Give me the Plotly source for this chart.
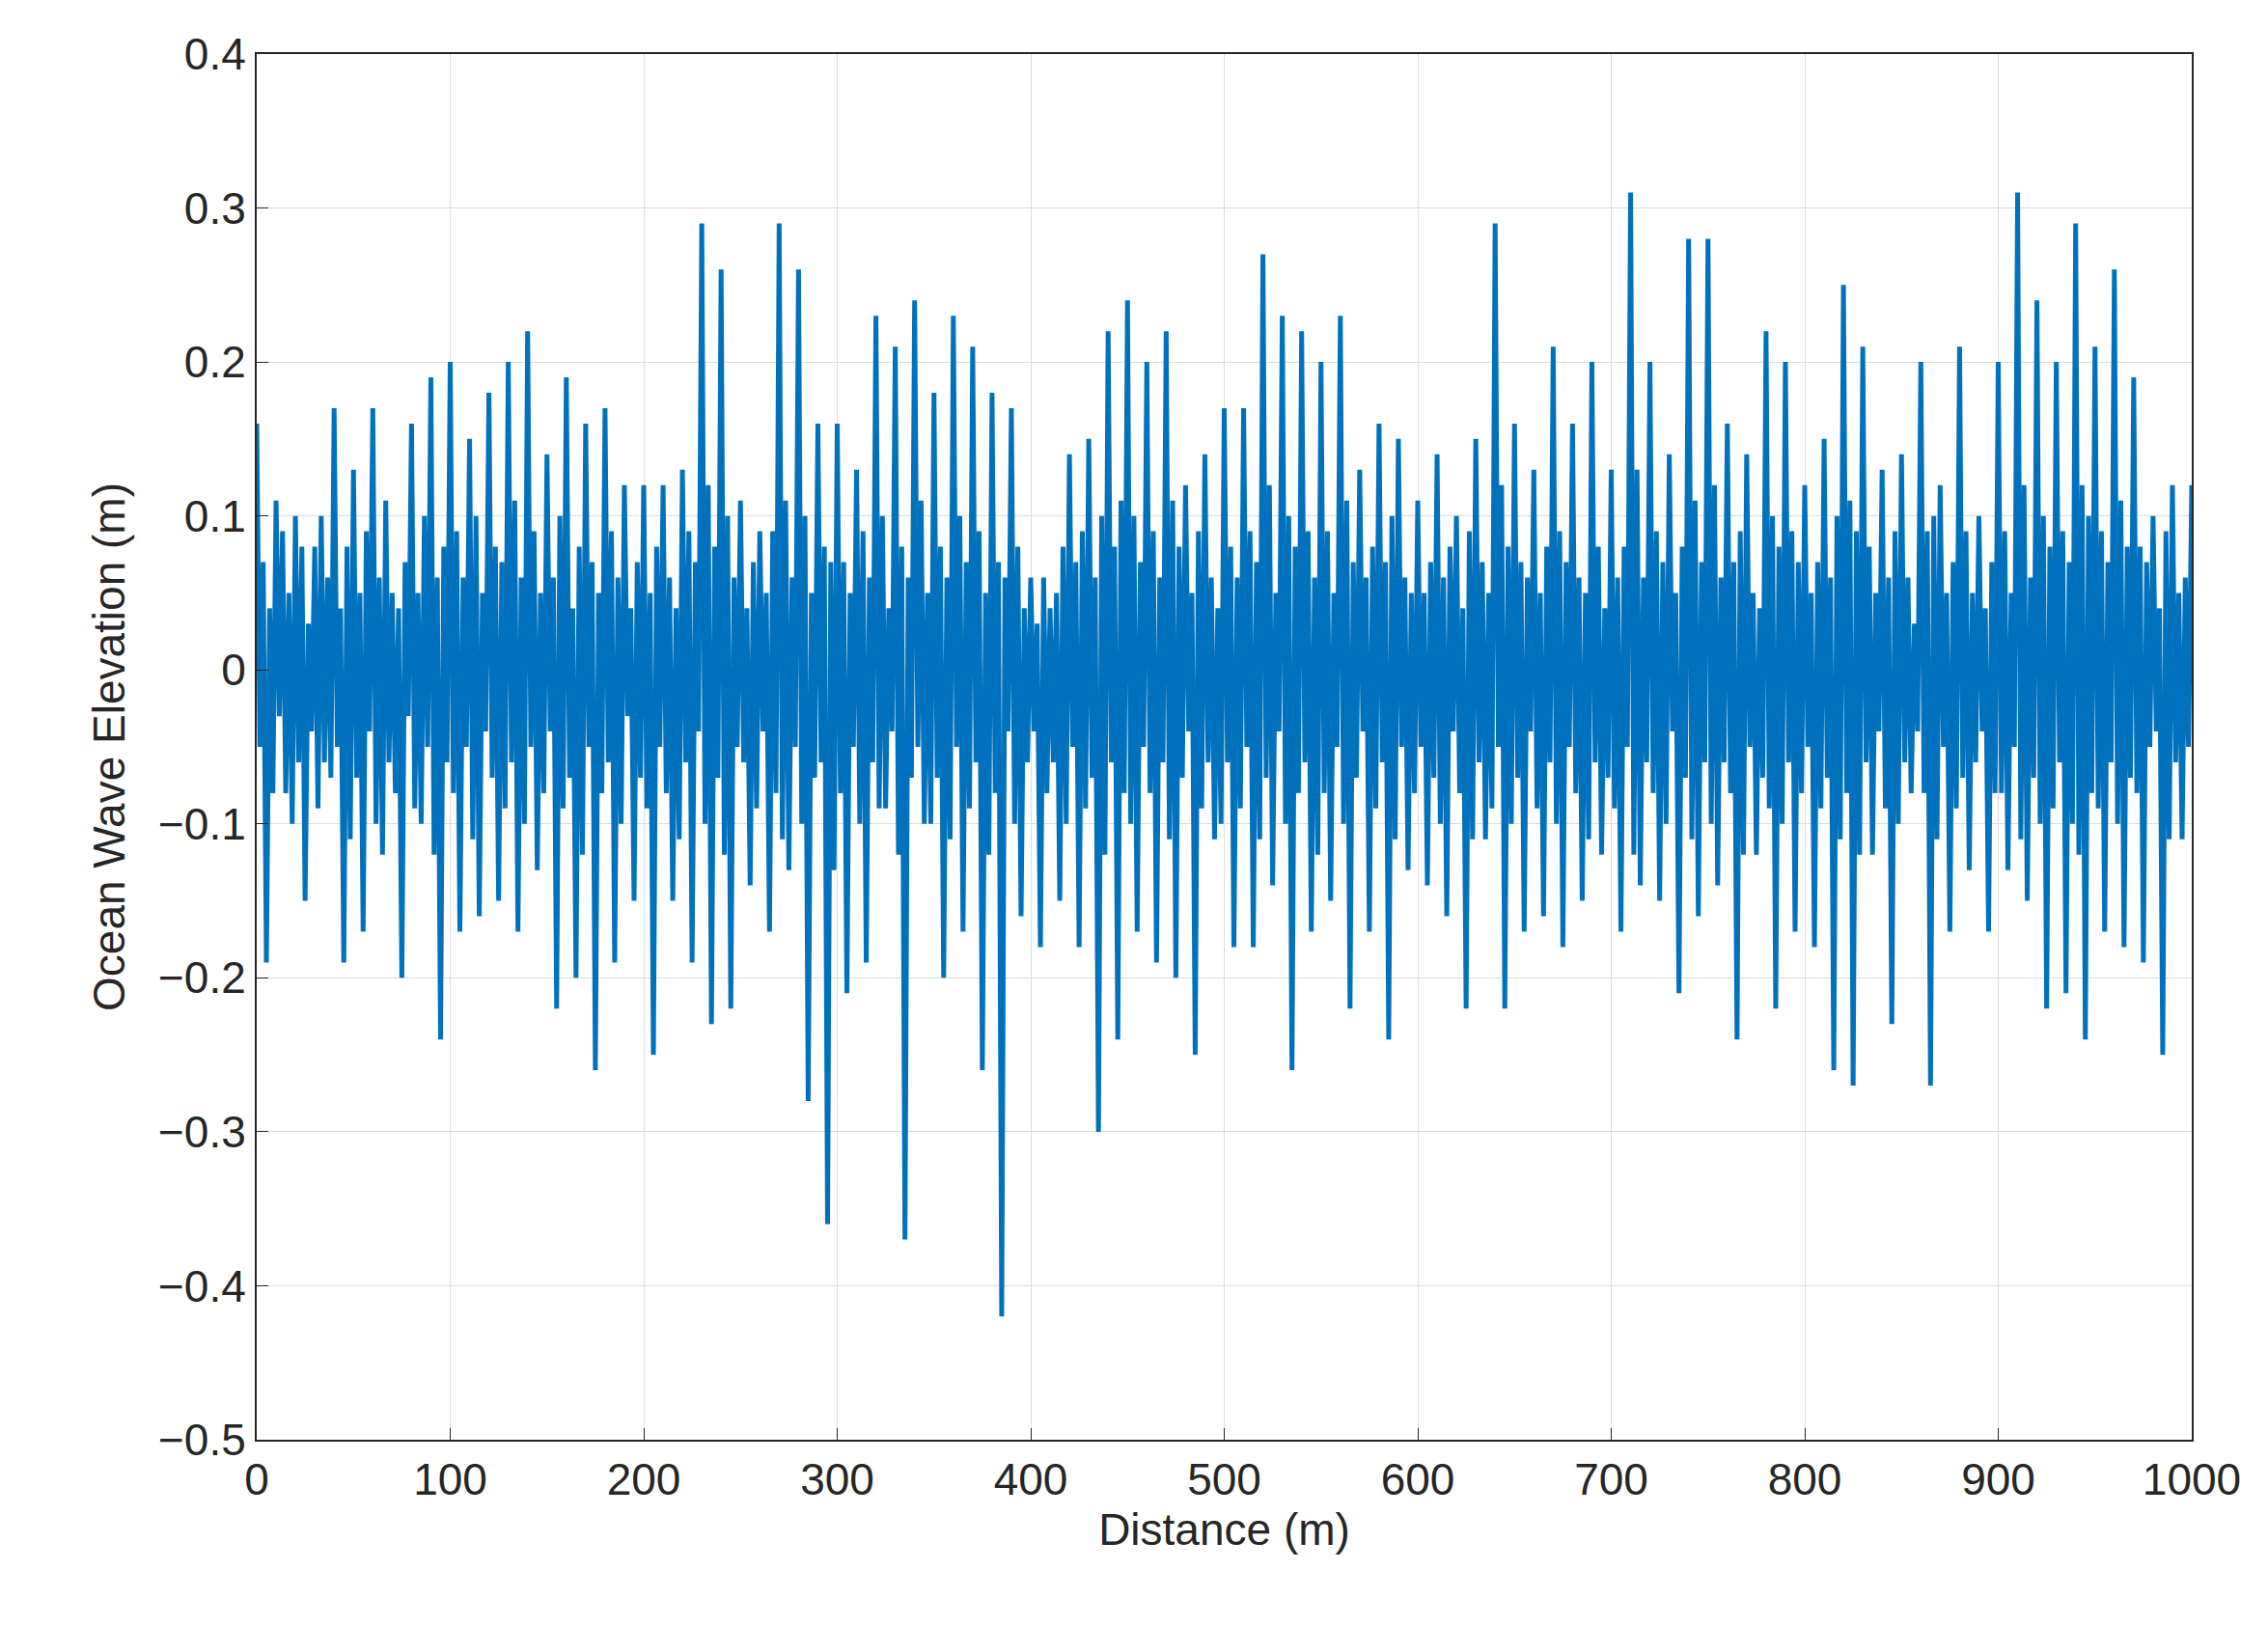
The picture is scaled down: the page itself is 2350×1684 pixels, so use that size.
import plotly.graph_objects as go

distance_step = 5
elevation = [
    0.16,-0.19,0.11,-0.08,0.10,-0.15,0.08,-0.06,0.17,-0.19,
    0.13,-0.17,0.17,-0.12,0.05,-0.20,0.16,-0.10,0.19,-0.24,
    0.20,-0.17,0.15,-0.16,0.18,-0.15,0.20,-0.17,0.22,-0.13,
    0.14,-0.22,0.19,-0.20,0.16,-0.26,0.17,-0.19,0.12,-0.15,
    0.12,-0.25,0.12,-0.15,0.13,-0.19,0.29,-0.23,0.26,-0.22,
    0.11,-0.14,0.09,-0.17,0.29,-0.13,0.26,-0.28,0.16,-0.36,
    0.16,-0.21,0.13,-0.19,0.23,-0.09,0.21,-0.37,0.24,-0.10,
    0.18,-0.20,0.23,-0.17,0.21,-0.26,0.18,-0.42,0.17,-0.16,
    0.06,-0.18,0.04,-0.15,0.14,-0.18,0.15,-0.30,0.22,-0.24,
    0.24,-0.17,0.20,-0.19,0.22,-0.20,0.12,-0.25,0.14,-0.11,
    0.17,-0.18,0.17,-0.18,0.27,-0.14,0.23,-0.26,0.22,-0.17,
    0.20,-0.15,0.23,-0.22,0.13,-0.17,0.16,-0.24,0.15,-0.13,
    0.11,-0.14,0.14,-0.16,0.10,-0.22,0.15,-0.11,0.29,-0.22,
    0.16,-0.17,0.13,-0.16,0.21,-0.18,0.16,-0.15,0.20,-0.12,
    0.13,-0.17,0.31,-0.14,0.20,-0.15,0.14,-0.21,0.28,-0.16,
    0.28,-0.14,0.16,-0.24,0.14,-0.12,0.22,-0.22,0.20,-0.17,
    0.12,-0.18,0.15,-0.26,0.25,-0.27,0.21,-0.12,0.13,-0.23,
    0.14,-0.08,0.20,-0.27,0.12,-0.17,0.21,-0.13,0.10,-0.17,
    0.20,-0.13,0.31,-0.15,0.24,-0.22,0.20,-0.21,0.29,-0.24,
    0.21,-0.17,0.26,-0.18,0.19,-0.19,0.10,-0.25,0.12,-0.11,
    0.12,
]
# intermediate ripples between main samples (first and second third of each step)
ripple_low = [
    -0.05,-0.08,-0.03,-0.10,-0.06,-0.04,-0.09,-0.07,-0.05,-0.11,
    -0.07,-0.04,-0.10,-0.06,-0.08,-0.03,-0.09,-0.05,-0.12,-0.06,
    -0.08,-0.05,-0.11,-0.04,-0.07,-0.09,-0.06,-0.10,-0.05,-0.08,
    -0.04,-0.09,-0.07,-0.12,-0.05,-0.08,-0.06,-0.10,-0.03,-0.07,
    -0.09,-0.05,-0.08,-0.11,-0.06,-0.04,-0.10,-0.07,-0.12,-0.05,
    -0.06,-0.09,-0.04,-0.08,-0.11,-0.05,-0.10,-0.07,-0.06,-0.13,
    -0.08,-0.05,-0.10,-0.06,-0.09,-0.04,-0.12,-0.07,-0.05,-0.10,
    -0.07,-0.11,-0.05,-0.09,-0.06,-0.12,-0.08,-0.04,-0.10,-0.06,
    -0.04,-0.08,-0.06,-0.10,-0.05,-0.09,-0.07,-0.12,-0.06,-0.08,
    -0.10,-0.05,-0.08,-0.06,-0.11,-0.07,-0.04,-0.09,-0.06,-0.10,
    -0.06,-0.09,-0.05,-0.11,-0.07,-0.04,-0.10,-0.08,-0.06,-0.12,
    -0.08,-0.05,-0.10,-0.07,-0.04,-0.09,-0.06,-0.11,-0.05,-0.08,
    -0.05,-0.07,-0.10,-0.04,-0.08,-0.11,-0.06,-0.09,-0.05,-0.10,
    -0.07,-0.04,-0.09,-0.06,-0.10,-0.05,-0.08,-0.11,-0.06,-0.07,
    -0.09,-0.05,-0.12,-0.06,-0.08,-0.10,-0.04,-0.07,-0.11,-0.06,
    -0.10,-0.06,-0.08,-0.12,-0.05,-0.07,-0.09,-0.10,-0.06,-0.08,
    -0.05,-0.09,-0.07,-0.11,-0.08,-0.12,-0.06,-0.04,-0.09,-0.10,
    -0.06,-0.04,-0.08,-0.11,-0.05,-0.09,-0.07,-0.06,-0.04,-0.08,
    -0.08,-0.05,-0.11,-0.07,-0.10,-0.09,-0.06,-0.10,-0.12,-0.08,
    -0.09,-0.06,-0.10,-0.07,-0.08,-0.05,-0.04,-0.11,-0.06,-0.05,
]
ripple_high = [
    0.07,0.04,0.09,0.05,0.08,0.03,0.10,0.06,0.04,0.08,
    0.05,0.09,0.06,0.11,0.04,0.07,0.05,0.10,0.06,0.08,
    0.09,0.06,0.10,0.05,0.08,0.07,0.11,0.06,0.09,0.05,
    0.06,0.10,0.04,0.08,0.07,0.05,0.09,0.06,0.04,0.07,
    0.05,0.08,0.06,0.04,0.09,0.07,0.12,0.08,0.10,0.06,
    0.04,0.07,0.05,0.09,0.11,0.06,0.10,0.05,0.08,0.07,
    0.07,0.05,0.09,0.06,0.10,0.04,0.08,0.06,0.11,0.05,
    0.08,0.06,0.10,0.07,0.09,0.05,0.07,0.06,0.08,0.04,
    0.03,0.06,0.05,0.08,0.07,0.09,0.06,0.10,0.08,0.11,
    0.10,0.07,0.09,0.06,0.11,0.08,0.05,0.09,0.06,0.04,
    0.08,0.06,0.09,0.07,0.12,0.05,0.10,0.08,0.09,0.06,
    0.09,0.05,0.11,0.07,0.06,0.08,0.07,0.10,0.06,0.05,
    0.05,0.07,0.06,0.08,0.04,0.09,0.07,0.05,0.12,0.08,
    0.07,0.06,0.05,0.08,0.09,0.07,0.06,0.05,0.08,0.04,
    0.06,0.08,0.13,0.06,0.09,0.07,0.05,0.08,0.11,0.07,
    0.12,0.06,0.07,0.09,0.05,0.04,0.10,0.08,0.09,0.07,
    0.05,0.07,0.06,0.10,0.11,0.09,0.08,0.05,0.06,0.09,
    0.06,0.03,0.09,0.10,0.05,0.07,0.09,0.05,0.04,0.07,
    0.09,0.05,0.12,0.06,0.10,0.08,0.09,0.07,0.12,0.10,
    0.09,0.07,0.11,0.08,0.08,0.07,0.04,0.09,0.05,0.06,
]

xs, ys = [], []
for i, v in enumerate(elevation):
    xs.append(i * distance_step)
    ys.append(v)
    if i < len(ripple_low):
        first, second = (ripple_low[i], ripple_high[i]) if v > 0 else (ripple_high[i], ripple_low[i])
        xs.append(i * distance_step + distance_step / 3)
        ys.append(first)
        xs.append(i * distance_step + 2 * distance_step / 3)
        ys.append(second)

fig = go.Figure(go.Scatter(x=xs, y=ys, mode="lines",
                           line=dict(color="#0072BD", width=5)))
font = dict(size=46, color="#262626", family="Liberation Sans")
axis_common = dict(showgrid=True, gridcolor="#dcdcdc", gridwidth=1,
                   showline=True, linecolor="#262626", linewidth=2, mirror=True,
                   ticks="inside", ticklen=12, tickcolor="#262626", zeroline=False,
                   tickfont=font)
fig.update_xaxes(range=[0, 1000], dtick=100, title=dict(text="Distance (m)", font=font, standoff=10), **axis_common)
fig.update_yaxes(range=[-0.5, 0.4], dtick=0.1, title=dict(text="Ocean Wave Elevation (m)", font=font, standoff=20), **axis_common)
fig.update_layout(width=2350, height=1684, plot_bgcolor="white", paper_bgcolor="white",
                  margin=dict(l=258, r=87, t=48, b=200), showlegend=False)
fig.write_html("out.html")
